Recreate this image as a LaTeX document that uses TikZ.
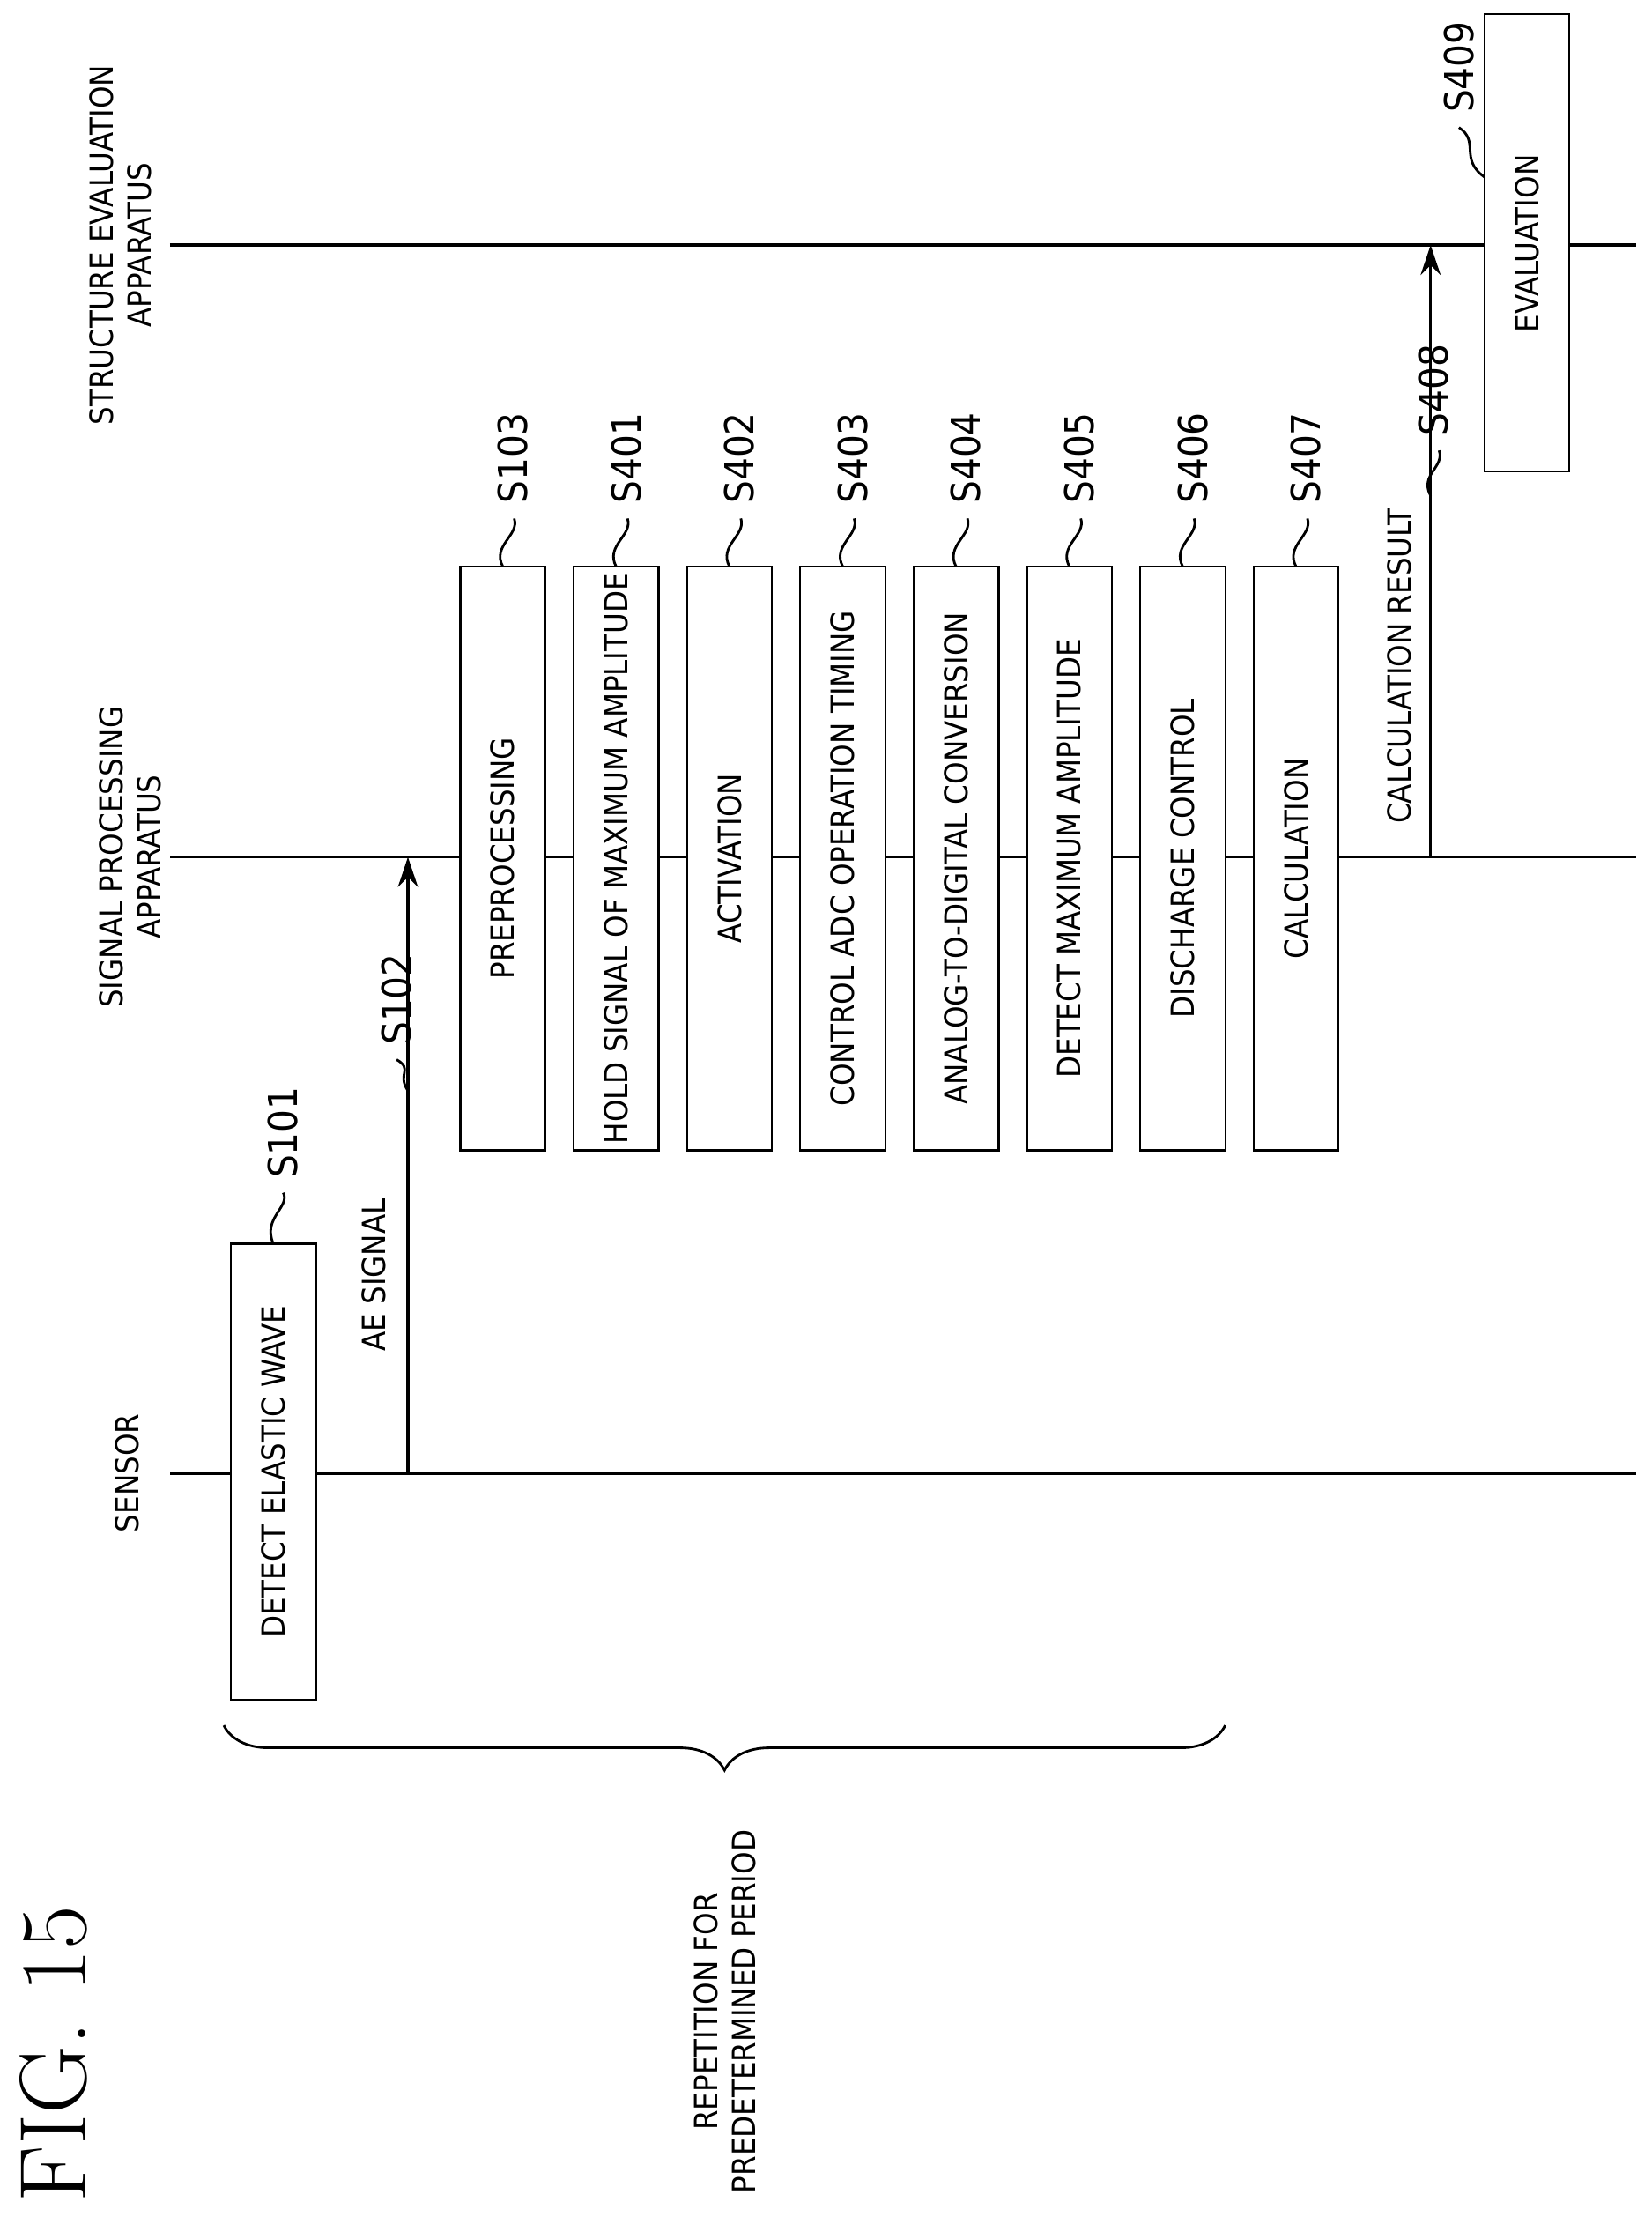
\documentclass[tikz,border=0pt]{standalone}
\usepackage{fontspec}
\setsansfont{DejaVu Sans Condensed}
\usetikzlibrary{arrows.meta,decorations.pathreplacing}
\begin{document}
\begin{tikzpicture}[x=0.01cm,y=-0.01cm,
  every node/.style={font=\sffamily\fontsize{6.4}{7.6}\selectfont},
  tag/.style={rotate=90,anchor=west,font=\sffamily\fontsize{8}{9}\selectfont},
  leader/.style={line width=0.5pt},
  msg/.style={-{Stealth[length=6pt,width=4pt]},line width=0.6pt}]
\useasboundingbox (0,0) rectangle (1166,1570);
% lifelines
\draw[line width=0.6pt] (120,1040) coordinate (sen0) -- (1155,1040) coordinate (sen1);
\draw[line width=0.6pt] (120,605) coordinate (sig0) -- (1155,605) coordinate (sig1);
\draw[line width=0.6pt] (120,173) coordinate (str0) -- (1155,173) coordinate (str1);
\node[rotate=90] (sensor) at (90,1040) {SENSOR};
\node[rotate=90,align=center] (signal) at (92,605) {SIGNAL PROCESSING\\APPARATUS};
\node[rotate=90,align=center] (struct) at (85,173) {STRUCTURE EVALUATION\\APPARATUS};
% sensor step
\draw[fill=white] (163,878) rectangle (223,1200);
\node[rotate=90] (detect) at (193,1039) {DETECT ELASTIC WAVE};
\draw[leader] (193,878) .. controls (185,860) and (205,852) .. (200,842);
\node[tag] (s101) at (200,844) {S101};
% AE signal
\coordinate (ae0) at (288,1040);
\coordinate (ae1) at (288,605);
\draw[msg] (ae0) -- (ae1);
\node[rotate=90] (aelab) at (264,900) {AE SIGNAL};
\draw[leader] (288,770) .. controls (280,758) and (292,755) .. (280,748);
\node[tag] (s102) at (280,750) {S102};
% signal processing steps
\foreach \x/\t/\s in {355/PREPROCESSING/S103,
  435/HOLD SIGNAL OF MAXIMUM AMPLITUDE/S401,
  515/ACTIVATION/S402,
  595/CONTROL ADC OPERATION TIMING/S403,
  675/ANALOG-TO-DIGITAL CONVERSION/S404,
  755/DETECT MAXIMUM AMPLITUDE/S405,
  835/DISCHARGE CONTROL/S406,
  915/CALCULATION/S407}{
  \draw[fill=white] (\x-30,400) rectangle (\x+30,812);
  \node[rotate=90] (b\s) at (\x,606) {\t};
  \draw[leader] (\x,400) .. controls (\x-8,385) and (\x+12,378) .. (\x+8,366);
  \node[tag] (\s) at (\x+7,368) {\s};
}
% calculation result
\coordinate (cr0) at (1010,605);
\coordinate (cr1) at (1010,173);
\draw[msg] (cr0) -- (cr1);
\node[rotate=90] (crlab) at (988,470) {CALCULATION RESULT};
\draw[leader] (1010,350) .. controls (1002,335) and (1020,330) .. (1016,318);
\node[tag] (s408) at (1012,320) {S408};
% evaluation
\draw[fill=white] (1048,10) rectangle (1108,333);
\node[rotate=90] (eval) at (1078,172) {EVALUATION};
\draw[leader] (1048,125) .. controls (1030,112) and (1045,100) .. (1030,90);
\node[tag] (s409) at (1030,92) {S409};
% brace
\draw[decorate,decoration={brace,amplitude=9pt},line width=0.5pt] (865,1218) -- (158,1218);
\node[rotate=90,align=center] (rep) at (512,1420) {REPETITION FOR\\PREDETERMINED PERIOD};
\node[rotate=90,font=\rmfamily\fontsize{19}{21}\selectfont] (fig) at (38,1450) {FIG. 15};
\end{tikzpicture}
\end{document}
